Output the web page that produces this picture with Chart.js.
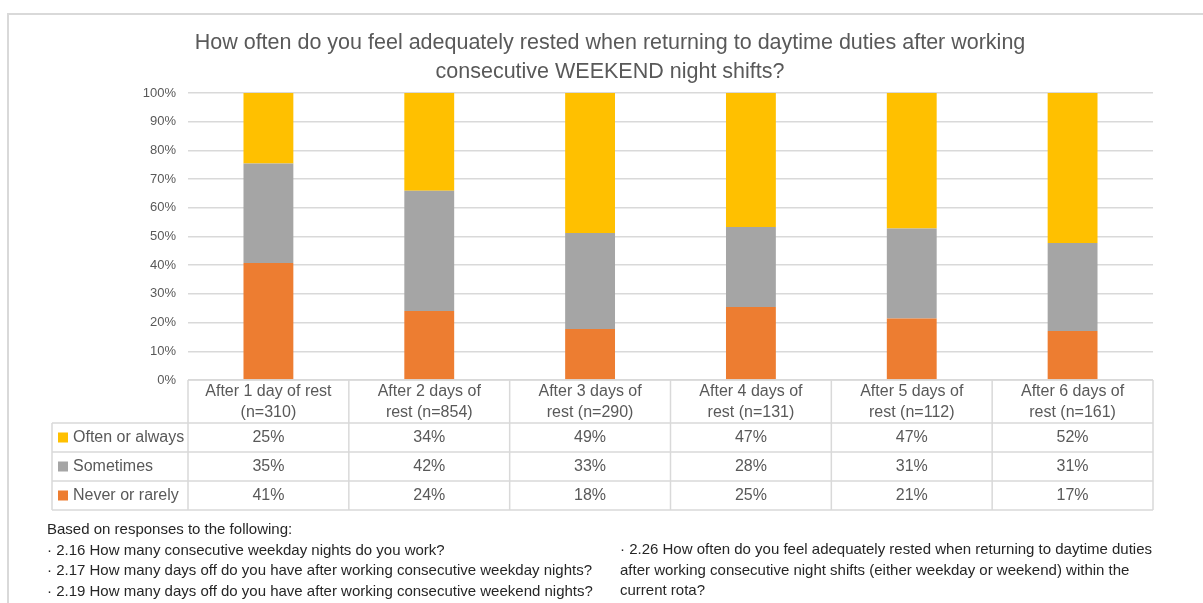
<!DOCTYPE html>
<html>
<head>
<meta charset="utf-8">
<script src="https://cdn.jsdelivr.net/npm/chart.js@4"></script>
<style>
    html, body { margin: 0; padding: 0; background: #ffffff; }
    #wrap { width: 1203px; height: 603px; position: relative; }
</style>
</head>
<body>
<div id="wrap"><canvas id="chart" width="1203" height="603"></canvas></div>
<script>
// =============================================================================
// DATA
// =============================================================================

const categories = [
    ['After 1 day of rest', '(n=310)'],
    ['After 2 days of', 'rest (n=854)'],
    ['After 3 days of', 'rest (n=290)'],
    ['After 4 days of', 'rest (n=131)'],
    ['After 5 days of', 'rest (n=112)'],
    ['After 6 days of', 'rest (n=161)']
];
const neverValues = [40.8, 24.0, 17.8, 25.4, 21.4, 17.1];
const sometimesValues = [34.6, 41.9, 33.4, 27.9, 31.4, 30.6];
const oftenValues = [24.6, 34.1, 48.8, 46.7, 47.2, 52.3];
const yTicks = [0, 10, 20, 30, 40, 50, 60, 70, 80, 90, 100];

const titleLines = [
    'How often do you feel adequately rested when returning to daytime duties after working',
    'consecutive WEEKEND night shifts?'
];
const notesLeft = [
    'Based on responses to the following:',
    '\u00b7 2.16 How many consecutive weekday nights do you work?',
    '\u00b7 2.17 How many days off do you have after working consecutive weekday nights?',
    '\u00b7 2.19 How many days off do you have after working consecutive weekend nights?'
];
const notesRight = [
    '\u00b7 2.26 How often do you feel adequately rested when returning to daytime duties',
    'after working consecutive night shifts (either weekday or weekend) within the',
    'current rota?'
];

// =============================================================================
// STYLE
// =============================================================================

const colors = {
    never: '#ED7D31',
    sometimes: '#A5A5A5',
    often: '#FFC000',
    grid: '#d9d9d9',
    text: '#595959',
    dark: '#262626'
};
const FONT = '"Liberation Sans", Arial, sans-serif';

// rows of the data table, top to bottom
const tableRows = [
    { label: 'Often or always', color: colors.often, values: oftenValues },
    { label: 'Sometimes', color: colors.sometimes, values: sometimesValues },
    { label: 'Never or rarely', color: colors.never, values: neverValues }
];

// =============================================================================
// PLUGINS
// =============================================================================

const decorPlugin = {
    id: 'decor',
    afterDraw(chart) {
        const ctx = chart.ctx;
        const area = chart.chartArea;
        const x = chart.scales.x;
        const n = categories.length;

        ctx.save();

        // outer frame
        ctx.strokeStyle = colors.grid;
        ctx.lineWidth = 2;
        ctx.beginPath();
        ctx.moveTo(8, 603);
        ctx.lineTo(8, 14);
        ctx.lineTo(1203, 14);
        ctx.stroke();

        // title
        ctx.fillStyle = colors.text;
        ctx.font = '21.5px ' + FONT;
        ctx.textAlign = 'center';
        ctx.textBaseline = 'middle';
        titleLines.forEach((t, i) => ctx.fillText(t, 610, 43 + i * 29.5));

        // data table grid
        const headTop = area.bottom;
        const headBottom = 423;
        const rowH = 29;
        const tableBottom = headBottom + rowH * tableRows.length;
        const legendLeft = 52;
        const colEdges = [];
        for (let i = 0; i <= n; i++) {
            colEdges.push(area.left + (area.right - area.left) * i / n);
        }

        ctx.strokeStyle = colors.grid;
        ctx.lineWidth = 1.5;
        ctx.beginPath();
        // vertical column lines
        colEdges.forEach(cx => {
            ctx.moveTo(cx, headTop);
            ctx.lineTo(cx, tableBottom);
        });
        ctx.moveTo(legendLeft, headBottom);
        ctx.lineTo(legendLeft, tableBottom);
        // horizontal lines
        ctx.moveTo(area.left, headTop);
        ctx.lineTo(area.right, headTop);
        for (let r = 0; r <= tableRows.length; r++) {
            const y = headBottom + r * rowH;
            ctx.moveTo(legendLeft, y);
            ctx.lineTo(area.right, y);
        }
        ctx.stroke();

        // header labels
        ctx.fillStyle = colors.text;
        ctx.font = '16px ' + FONT;
        ctx.textAlign = 'center';
        categories.forEach((lines, i) => {
            const cx = x.getPixelForValue(i);
            lines.forEach((t, j) => ctx.fillText(t, cx, 392 + j * 21));
        });

        // rows
        tableRows.forEach((row, r) => {
            const cy = headBottom + r * rowH + rowH / 2;
            ctx.fillStyle = row.color;
            ctx.fillRect(58, cy - 5, 10, 10);
            ctx.fillStyle = colors.text;
            ctx.textAlign = 'left';
            ctx.fillText(row.label, 73, cy);
            ctx.textAlign = 'center';
            row.values.forEach((v, i) => {
                ctx.fillText(Math.round(v) + '%', x.getPixelForValue(i), cy);
            });
        });

        // footnotes
        ctx.fillStyle = colors.dark;
        ctx.font = '15px ' + FONT;
        ctx.textAlign = 'left';
        notesLeft.forEach((t, i) => ctx.fillText(t, 47, 530 + i * 20.5));
        notesRight.forEach((t, i) => ctx.fillText(t, 620, 550 + i * 20.5));

        ctx.restore();
    }
};

// =============================================================================
// CHART
// =============================================================================

const ctx = document.getElementById('chart').getContext('2d');

new Chart(ctx, {
    type: 'bar',
    data: {
        labels: categories,
        datasets: [
            { label: 'Never or rarely', data: neverValues, backgroundColor: colors.never },
            { label: 'Sometimes', data: sometimesValues, backgroundColor: colors.sometimes },
            { label: 'Often or always', data: oftenValues, backgroundColor: colors.often }
        ]
    },
    options: {
        responsive: false,
        animation: false,
        layout: { padding: { left: 0, right: 50, top: 93, bottom: 223 } },
        datasets: {
            bar: { categoryPercentage: 1, barPercentage: 0.31 }
        },
        plugins: {
            legend: { display: false },
            title: { display: false },
            tooltip: { enabled: false }
        },
        scales: {
            x: {
                stacked: true,
                display: false
            },
            y: {
                stacked: true,
                min: 0,
                max: 100,
                afterFit: scale => { scale.width = 188; },
                afterBuildTicks: scale => {
                    scale.ticks = yTicks.map(v => ({ value: v }));
                },
                grid: { color: colors.grid, lineWidth: 1.5, drawTicks: false },
                border: { display: false },
                ticks: {
                    padding: 12,
                    color: colors.text,
                    font: { family: FONT, size: 13 },
                    callback: v => v + '%'
                }
            }
        }
    },
    plugins: [decorPlugin]
});
</script>
</body>
</html>
